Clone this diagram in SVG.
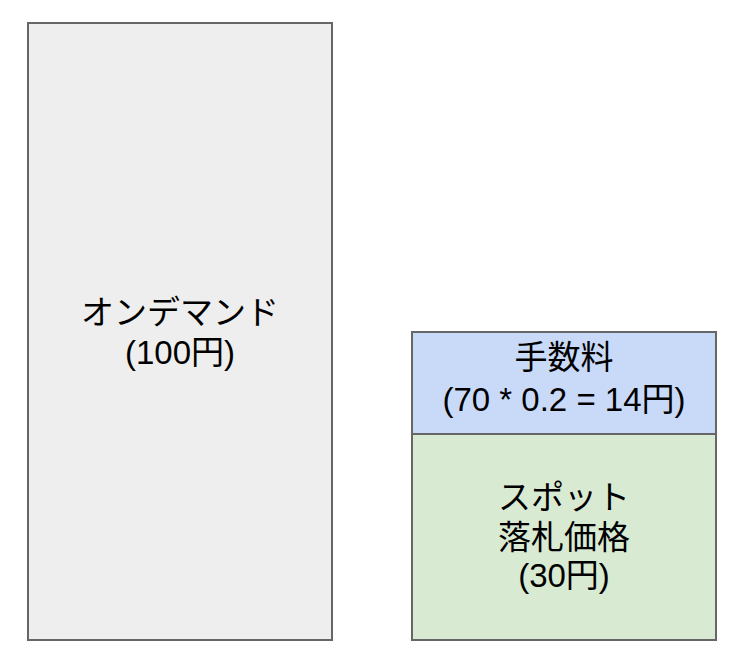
<svg xmlns="http://www.w3.org/2000/svg" width="734" height="658" viewBox="0 0 734 658">
<style>
.box{stroke:#666666;stroke-width:2}
.t{font-family:"Liberation Sans","Noto Sans CJK JP",sans-serif;font-size:33px;fill:#000000;text-anchor:middle}
</style>
<rect width="734" height="658" fill="#ffffff"/>
<g id="ondemand">
<rect class="box" x="28" y="23" width="304" height="617" fill="#eeeeee"/>
<text class="t" x="180" y="324">オンデマンド</text>
<text class="t" x="180" y="364">(100円)</text>
</g>
<g id="fee">
<rect class="box" x="412" y="332" width="304" height="102" fill="#c9daf8"/>
<text class="t" x="564" y="369">手数料</text>
<text class="t" x="564" y="411">(70 * 0.2 = 14円)</text>
</g>
<g id="spot">
<rect class="box" x="412" y="434" width="304" height="206" fill="#d9ead3"/>
<text class="t" x="564" y="509">スポット</text>
<text class="t" x="564" y="549">落札価格</text>
<text class="t" x="564" y="587">(30円)</text>
</g>
<g id="connectors"></g>
</svg>
